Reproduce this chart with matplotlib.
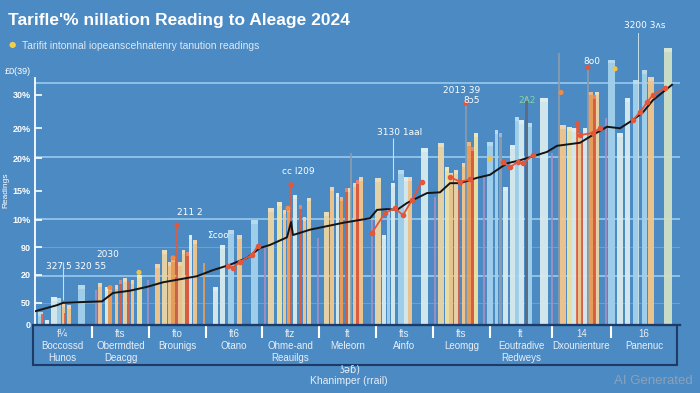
import matplotlib.pyplot as plt
import matplotlib.patches as patches
import numpy as np

BG = '#4b8ac3'

# bars: position on the time index and reading value
bar_pos = [5, 7, 12, 19, 24, 28, 30, 34, 46, 61, 65, 71, 75, 81, 85, 90, 94, 97, 104, 113,
           122, 129, 134, 138, 142, 145, 148, 152, 155, 160, 169, 180, 187, 196, 204, 219, 230,
           236, 244, 249, 253, 256, 260, 265, 269, 274, 283, 291, 297, 302, 306, 311, 314, 316,
           319, 322, 326, 337, 343, 349, 353, 358, 366, 371, 375, 389, 400, 406, 412, 416, 421,
           424, 428, 431, 434, 437, 441, 449, 455, 461, 465, 470, 477, 482, 486, 491, 495, 509,
           517, 524, 528, 534, 539, 542, 545, 547, 550, 553, 555, 559, 562, 571, 576, 585, 592,
           600, 603, 609, 616, 633]
bar_val = [1.7, 1.5, 0.7, 3.7, 3.5, 2.9, 1.6, 2.6, 5.2, 4.6, 5.5, 5.0, 5.0, 5.2, 5.9, 6.2, 5.6, 5.9, 6.6, 5.9,
           8.0, 9.8, 8.3, 8.8, 13.1, 8.3, 9.8, 9.6, 11.8, 11.1, 8.1, 5.0, 10.5, 12.5, 11.8, 13.8, 10.2,
           15.3, 16.1, 15.1, 15.3, 18.4, 17.0, 15.7, 14.2, 16.7, 11.4, 14.8, 18.1, 17.3, 16.8, 18.0, 18.0, 22.6,
           18.6, 19.0, 19.4, 13.8, 19.3, 11.8, 15.1, 18.6, 20.3, 19.4, 19.4, 23.2, 16.8, 23.9, 20.7, 19.9, 20.3,
           17.7, 21.2, 29.1, 24.0, 23.3, 25.2, 19.4, 24.0, 25.6, 25.2, 18.1, 23.6, 27.3, 26.9, 29.9, 26.5, 29.8,
           22.6, 35.7, 26.2, 26.0, 25.8, 26.6, 25.2, 24.0, 25.8, 33.8, 30.6, 30.2, 30.6, 27.1, 34.8, 25.2, 29.8,
           32.1, 38.3, 33.4, 32.5, 36.3]
bar_kind = ['lb', 're', 'cr', 'cr', 'lb', 'pe', 're', 'pe', 'lb', 'mv', 'pe', 'cr', 'or', 'pe', 're', 'be', 're', 'pe', 'ye', 'mv',
            'pe', 'be', 'pe', 'or', 're', 'pe', 'be', 're', 'cr', 'pe', 'or', 'cr', 'cr', 'lb', 'pe', 'lb', 'mv',
            'be', 'ye', 'pe', 'or', 're', 'cr', 're', 'pe', 'be', 'mv', 'be', 'pe', 'cr', 'or', 're', 'be', 'gr',
            'pe', 're', 'pe', 'mv', 'be', 'cr', 'lb', 'cr', 'lb', 'cr', 'pe', 'cr', 'mv', 'be', 'ye', 'pe', 'be',
            're', 'pe', 'gr', 'or', 're', 'ye', 'mv', 'lb', 'lb', 'gr', 'cr', 'cr', 'lb', 'cr', 'dg', 'lb', 'cr',
            'mv', 'gr', 'pe', 'ye', 'cr', 're', 'pe', 're', 'cr', 'gr', 'or', 're', 'be', 'mv', 'lb', 'cr', 'cr',
            'lb', 'cr', 'lb', 'pe', 'sg']
bar_width = [5, 1.5, 4, 6, 4, 3, 1.5, 4, 7, 2, 4, 3, 4, 3, 3, 4, 2, 3, 5, 2,
             5, 5, 3, 4, 1.5, 4, 3, 3, 3, 4, 2, 5, 5, 6, 5, 7, 1.5,
             6, 5, 3, 3, 1.5, 4, 3, 3, 4, 1.5, 5, 4, 3, 3, 3, 3, 1.5,
             3, 3, 4, 1.5, 6, 4, 3, 4, 6, 4, 4, 7, 1.5, 6, 4, 4, 4,
             1.5, 3, 1.5, 4, 3, 4, 1.5, 6, 3, 3, 5, 5, 4, 6, 3, 4, 8,
             1.5, 1.5, 6, 5, 5, 1.5, 4, 1.5, 4, 1.5, 5, 3, 4, 2, 7, 6, 5,
             5, 1, 5, 6, 8]

colors = {'lb': '#a3d1ec', 'cr': '#d9ecee', 'pe': '#f4c68c', 'or': '#f09f55', 're': '#e25a3b',
          'be': '#ebd6a6', 'ye': '#f1e3a2', 'mv': '#a790c2', 'gr': '#8d9bab', 'dg': '#5c6c82',
          'sg': '#cfe0c6'}

# trend line
line_x = [0, 22, 28, 45, 67, 78, 95, 112, 128, 145, 162, 178, 195, 212, 225, 235, 252, 256, 258, 275,
          308, 335, 342, 352, 362, 372, 392, 405, 415, 425, 442, 455, 465, 472, 485, 512, 522, 545,
          555, 572, 585, 598, 608, 618, 637]
line_y = [1.8, 2.6, 2.9, 3.0, 3.1, 4.2, 4.5, 5.0, 5.6, 6.0, 6.4, 7.2, 7.9, 8.8, 10.1, 10.5, 11.5, 13.5, 11.8, 12.5,
          13.4, 14.0, 15.1, 15.2, 15.1, 16.0, 17.3, 17.4, 18.6, 18.6, 19.3, 19.7, 20.6, 21.2, 21.6, 22.7, 23.5, 23.9,
          24.7, 26.0, 25.8, 26.9, 27.9, 29.5, 31.5]

# red marker readings (gaps where the series breaks)
red_x = [193, 198, 205, 217, 223, None, 337, 350, 360, 368, 377, 387, None, 415, 425, 435, None,
         468, 475, 483, 488, 498, None, 542, 545, 558, 565, None, 598, 605, 612, 618, 630]
red_y = [7.7, 7.5, 8.3, 9.2, 10.4, None, 12.1, 14.7, 15.3, 14.4, 16.4, 18.8, None, 19.4, 18.8, 19.1, None,
         21.4, 20.7, 21.4, 21.2, 22.3, None, 26.5, 24.9, 25.2, 25.8, None, 26.9, 27.9, 29.2, 30.2, 31.1]

dot_x = [142, 256, 431, 553, 75, 138, 253, 526, 580, 455, 104]
dot_y = [13.1, 18.4, 29.1, 33.8, 4.9, 8.8, 15.3, 30.5, 33.6, 21.8, 6.9]
dot_c = ['#e5553a', '#e5553a', '#e5553a', '#e5553a', '#f08a45', '#f08a45', '#f08a45', '#f08a45',
         '#f2c24a', '#f2c24a', '#f2c24a']

notes = ['327.5 320 55', '2030', '211 2', 'Σcoo', 'cc l209', '3130 1aal', '2013 39', '8ɔ5', '2Λ2', '8o0', '3200 3ʌs']
note_x = [41, 73, 155, 183, 263, 365, 427, 437, 492, 557, 610]
note_y = [7.7, 9.2, 14.7, 11.7, 20.1, 25.2, 30.7, 29.4, 29.5, 34.5, 39.3]

ytick_val = [0, 2.9, 6.6, 10.2, 13.8, 17.6, 21.9, 25.8, 30.2]
ytick_lab = ['0', '50', '20', '90', '10%', '15%', '20%', '20%', '30%']
grid_major = [31.7, 22.0, 13.9, 6.4]
grid_minor = [10.2, 2.9]

cat_edges = [-2, 57, 114, 171, 227, 284, 341, 398, 455, 517, 576, 642]
cat_labels = ['f¼\nBoccossd\nHunos', 'fts\nObermdted\nDeacgg', 'fto\nBrounigs', 'ft6\nOtano',
              'ftz\nOhme-and\nReauilgs', 'ft\nMeleorn', 'fts\nAinfo', 'fts\nLeomgg',
              'ft\nEoutradive\nRedweys', '14\nDxounienture', '16\nPanenuc']

plt.rcParams['font.family'] = ['Liberation Sans', 'DejaVu Sans']

fig = plt.figure(figsize=(7, 3.93), dpi=100)
fig.patch.set_facecolor(BG)
ax = fig.add_axes([35 / 700, 68 / 393, 645 / 700, 305 / 393])
ax.set_facecolor(BG)
ax.set_xlim(0, 645)
ax.set_ylim(0, 40)

for g in grid_major:
    ax.axhline(g, color='#8fc0e6', lw=1.4, zorder=0)
for g in grid_minor:
    ax.axhline(g, color='#80b2dc', lw=0.8, alpha=0.6, zorder=0)

# wide bars first, thin lines on top
order = sorted(range(len(bar_pos)), key=lambda i: -bar_width[i])
for i in order:
    ax.bar(bar_pos[i], bar_val[i], width=bar_width[i], color=colors[bar_kind[i]],
           alpha=0.95 if bar_width[i] > 2 else 0.85, zorder=2, linewidth=0)
    if bar_width[i] > 2:
        ax.bar(bar_pos[i], 0.5, bottom=bar_val[i] - 0.5, width=bar_width[i],
               color='white', alpha=0.25, zorder=2, linewidth=0)

ax.vlines([28, 358], [3.3, 19.0], [8.3, 24.5], color='#c9def0', lw=0.8, zorder=1)

ax.plot(line_x, line_y, color='#141414', lw=1.4, zorder=4)
rx = np.array([np.nan if v is None else v for v in red_x], dtype=float)
ry = np.array([np.nan if v is None else v for v in red_y], dtype=float)
ax.plot(rx, ry, color='#e5553a', lw=1.3, marker='o', ms=3, zorder=5)
ax.scatter(dot_x, dot_y, s=14, c=dot_c, zorder=6, linewidths=0)

for t, x, y in zip(notes, note_x, note_y):
    c = '#7fd6a4' if t == '2Λ2' else 'white'
    ax.text(x, y, t, color=c, fontsize=6.5, ha='center', va='center', zorder=7,
            family=['DejaVu Sans'])

ax.set_yticks(ytick_val)
ax.set_yticklabels(ytick_lab, color='white', fontsize=6.5, fontweight='bold')
ax.tick_params(axis='y', direction='in', length=5, width=1.2, color='white', pad=3)

centers = [(a + b) / 2 for a, b in zip(cat_edges[:-1], cat_edges[1:])]
ax.set_xticks(centers)
ax.set_xticklabels(cat_labels, color='#e8eff7', fontsize=7, linespacing=1.25)
ax.set_xticks(cat_edges[1:-1], minor=True)
ax.tick_params(axis='x', which='major', length=0, pad=3)
ax.tick_params(axis='x', which='minor', length=9, width=1.5, color='white', direction='out')

for s in ['top', 'right']:
    ax.spines[s].set_visible(False)
ax.spines['left'].set_color('white')
ax.spines['left'].set_linewidth(1.3)
ax.spines['left'].set_bounds(0, 32.4)
ax.spines['bottom'].set_color('#1d3b66')
ax.spines['bottom'].set_linewidth(1.6)

fig.add_artist(patches.Rectangle((33 / 700, 28 / 393), 644 / 700, 40 / 393, transform=fig.transFigure,
                                 fill=False, edgecolor='#1d3b66', lw=1.5))

fig.text(6 / 700, 1 - 190 / 393, 'Readings', color='white', fontsize=6, rotation=90,
         ha='center', va='center')
fig.text(18 / 700, 1 - 72 / 393, '£0(39)', color='white', fontsize=6.5, ha='center', va='center')

fig.text(8 / 700, 1 - 20 / 393, "Tarifle'% nillation Reading to Aleage 2024", color='white',
         fontsize=12.5, fontweight='bold', ha='left', va='center')
fig.text(12 / 700, 1 - 45 / 393, '●', color='#f2cf4a', fontsize=6, ha='center', va='center',
         family=['DejaVu Sans'])
fig.text(22 / 700, 1 - 46 / 393, 'Tarifit intonnal iopeanscehnatenry tanution readings',
         color='#dfe9f3', fontsize=7.5, ha='left', va='center')

fig.text(350 / 700, 1 - 369 / 393, 'ʖəɓ)', color='#e8eff7', fontsize=7, ha='center', va='center',
         family=['DejaVu Sans'])
fig.text(349 / 700, 1 - 381 / 393, 'Khanimper (rrail)', color='#e8eff7', fontsize=7.5,
         ha='center', va='center')
fig.text(693 / 700, 1 - 381 / 393, 'AI Generated', color='#8aa2ba', fontsize=9.5,
         ha='right', va='center')

fig.savefig('out.png', dpi=100, facecolor=BG)
